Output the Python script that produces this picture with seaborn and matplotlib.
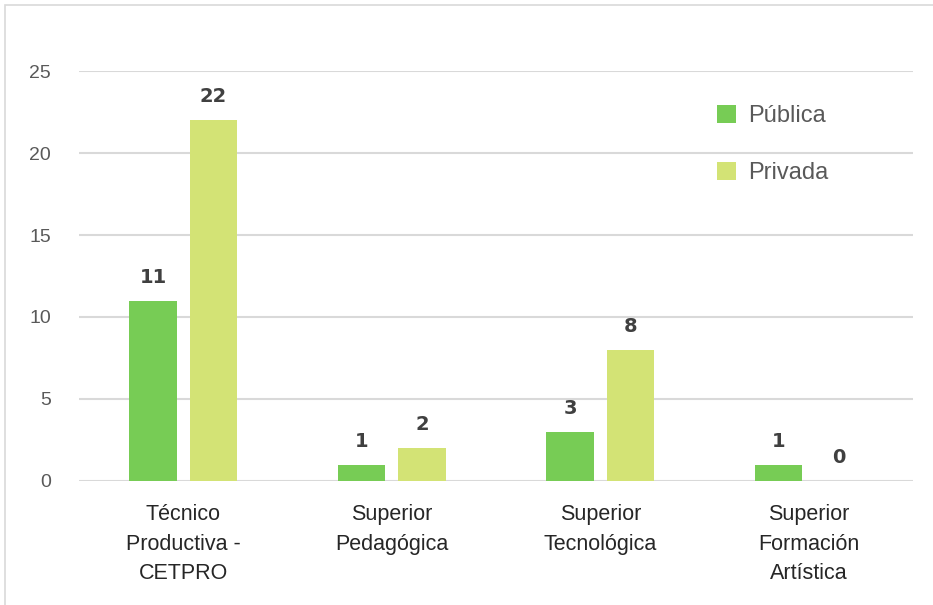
import pandas as pd
import matplotlib.pyplot as plt
import seaborn as sns
from matplotlib.patches import Rectangle

# data
categories = ['Técnico\nProductiva -\nCETPRO', 'Superior\nPedagógica',
              'Superior\nTecnológica', 'Superior\nFormación\nArtística']
publica = [11, 1, 3, 1]
privada = [22, 2, 8, 0]
series = ['Pública', 'Privada']
colors = ['#77cc55', '#d3e375']

df = pd.DataFrame({
    'cat': categories * 2,
    'tipo': [series[0]] * 4 + [series[1]] * 4,
    'valor': publica + privada,
})

sns.set_theme(style='white')
plt.rcParams['font.family'] = ['Liberation Sans', 'DejaVu Sans']

fig = plt.figure(figsize=(9.33, 6.05), dpi=100)
ax = fig.add_axes([0.0847, 0.205, 0.8939, 0.6776])

sns.barplot(data=df, x='cat', y='valor', hue='tipo', palette=colors,
            width=0.58, gap=0.22, ax=ax, legend=True, saturation=1,
            linewidth=0)

ax.set_ylim(0, 25)
ax.set_xlim(-0.5, 3.5)
ax.set_yticks([0, 5, 10, 15, 20, 25])
ax.yaxis.grid(True, color='#d9d9d9', linewidth=1.5)
ax.set_axisbelow(True)
for s in ax.spines.values():
    s.set_visible(False)
ax.tick_params(axis='both', length=0)
ax.tick_params(axis='y', labelsize=14, labelcolor='#595959', pad=20)
ax.tick_params(axis='x', labelsize=15.5, labelcolor='#262626', pad=16.5)
for lbl in ax.get_xticklabels():
    lbl.set_linespacing(1.55)
    lbl.set_verticalalignment('top')
ax.set_xlabel('')
ax.set_ylabel('')

for cont in ax.containers:
    ax.bar_label(cont, padding=10, fontsize=14, color='#404040',
                 fontweight='bold', family='DejaVu Sans')

leg = ax.legend(loc='upper left', bbox_to_anchor=(0.74, 0.97), frameon=False,
                labelspacing=1.5, handlelength=0.8,
                handleheight=0.8, handletextpad=0.5,
                prop={'family': 'Liberation Sans', 'size': 17})
for t in leg.get_texts():
    t.set_color('#595959')

# thin frame around the chart
fig.patches.append(Rectangle((5 / 933, -0.1), 1.2, 1.1 - 5 / 605,
                             transform=fig.transFigure, fill=False,
                             edgecolor='#d9d9d9', linewidth=1.2))

fig.savefig('out.png', dpi=100)
